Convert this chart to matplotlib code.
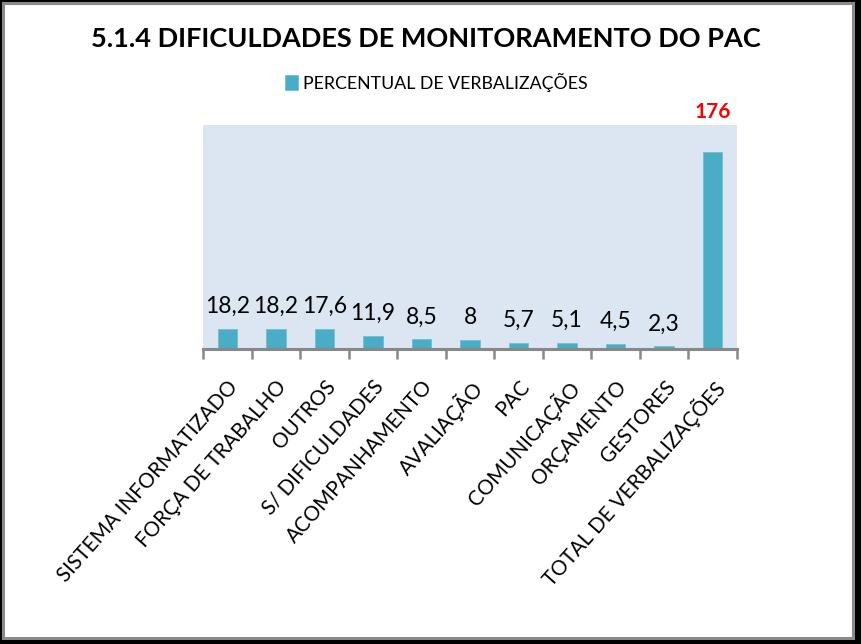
import matplotlib
matplotlib.use('Agg')
import matplotlib.pyplot as plt
import matplotlib.patches as patches

categories = [
    'SISTEMA INFORMATIZADO',
    'FORÇA DE TRABALHO',
    'OUTROS',
    'S/ DIFICULDADES',
    'ACOMPANHAMENTO',
    'AVALIAÇÃO',
    'PAC',
    'COMUNICAÇÃO',
    'ORÇAMENTO',
    'GESTORES',
    'TOTAL DE VERBALIZAÇÕES',
]
values = [18.2, 18.2, 17.6, 11.9, 8.5, 8, 5.7, 5.1, 4.5, 2.3, 176]
value_labels = ['18,2', '18,2', '17,6', '11,9', '8,5', '8', '5,7', '5,1', '4,5', '2,3', '176']

title = '5.1.4 DIFICULDADES DE MONITORAMENTO DO PAC'
series_name = 'PERCENTUAL DE VERBALIZAÇÕES'

bar_color = '#4bacc6'
plt.rcParams['font.family'] = ['Lato', 'DejaVu Sans']

W, H = 861, 644
fig = plt.figure(figsize=(W / 100, H / 100), dpi=100, facecolor='black')

# white card with gray frame, black shadow around
card = patches.Rectangle((3 / W, 1 - 638 / H), 850 / W, 635 / H,
                         transform=fig.transFigure, facecolor='white',
                         edgecolor='#8a8a8a', linewidth=2.2, zorder=-5)
fig.patches.append(card)

ax = fig.add_axes([203 / W, 1 - 349 / H, (737 - 203) / W, (349 - 125) / H])
ax.set_facecolor('#dce6f2')

x = list(range(len(categories)))
bars = ax.bar(x, values, width=0.4, color=bar_color, edgecolor='#6cc0d6',
              linewidth=0.6, label=series_name, zorder=2)

ax.set_xlim(-0.5, len(categories) - 0.5)
ax.set_ylim(0, 200)
ax.set_yticks([])

for s in ['top', 'right', 'left']:
    ax.spines[s].set_visible(False)
ax.spines['bottom'].set_color('#888888')
ax.spines['bottom'].set_linewidth(2.2)

# boundary ticks (minor) and labels at centers (major)
ax.set_xticks([i - 0.5 for i in range(len(categories) + 1)], minor=True)
ax.tick_params(axis='x', which='minor', length=7, width=1.8, color='#888888', direction='out')
ax.set_xticks(x)
ax.set_xticklabels(categories, rotation=48.5, ha='right', rotation_mode='anchor',
                   fontsize=14.8)
ax.tick_params(axis='x', which='major', length=0, pad=20)

for i, (v, lab) in enumerate(zip(values, value_labels)):
    if i == len(values) - 1:
        ax.annotate(lab, (i, v), xytext=(0, 24.5), textcoords='offset points',
                    ha='center', va='baseline', fontsize=15, fontweight='bold',
                    color='red', annotation_clip=False)
    else:
        ax.annotate(lab, (i, v), xytext=(0, 11.5), textcoords='offset points',
                    ha='center', va='baseline', fontsize=16.5, color='black')

fig.text(425.5 / W, 1 - 47 / H, title, ha='center', va='baseline',
         fontsize=19.5, fontweight='bold')

fig.legend(handles=[bars], labels=[series_name], loc='center',
           bbox_to_anchor=(436 / W, 1 - 82 / H), frameon=False, fontsize=12.8,
           handlelength=0.75, handleheight=0.9, handletextpad=0.25,
           borderaxespad=0, borderpad=0)

fig.savefig('out.png', dpi=100, facecolor=fig.get_facecolor())
